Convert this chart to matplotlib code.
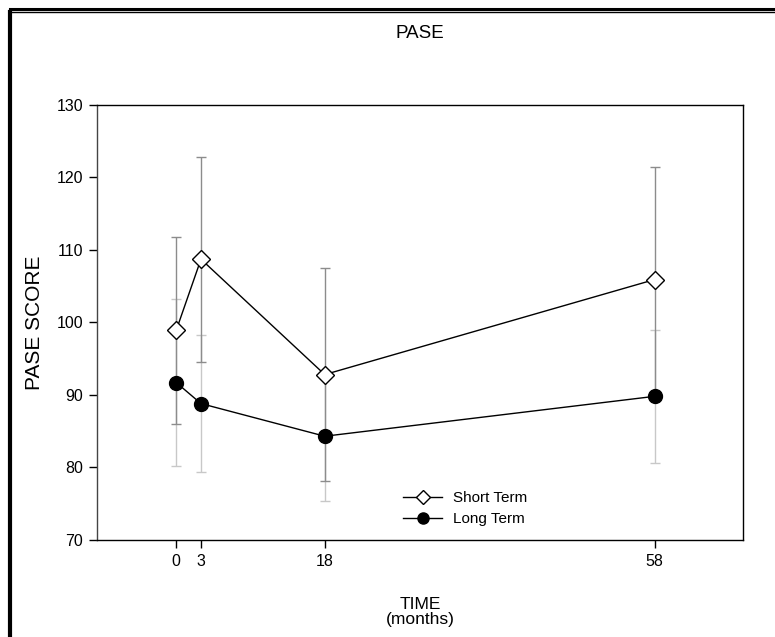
import matplotlib.pyplot as plt
from matplotlib.lines import Line2D

# time points (months) and group means / error half-widths
months = [0, 3, 18, 58]
short_mean = [98.9, 108.7, 92.8, 105.9]
short_err = [12.9, 14.1, 14.7, 15.5]
long_mean = [91.7, 88.8, 84.3, 89.8]
long_err = [11.5, 9.4, 8.9, 9.2]

plt.rcParams['font.family'] = ['Liberation Sans', 'DejaVu Sans']

fig = plt.figure(figsize=(7.75, 6.37), dpi=100)
ax = fig.add_axes([0.1252, 0.1523, 0.8335, 0.6834])

# error bars first, so the lines and markers sit on top
ax.errorbar(months, long_mean, yerr=long_err, fmt='none', ecolor='#c8c8c8',
            elinewidth=1, capsize=3.5, capthick=1, zorder=1)
ax.errorbar(months, short_mean, yerr=short_err, fmt='none', ecolor='#8c8c8c',
            elinewidth=1, capsize=3.5, capthick=1, zorder=1)

ax.plot(months, short_mean, color='black', lw=1, marker='D', markersize=9.5,
        markerfacecolor='white', markeredgecolor='black', markeredgewidth=1,
        label='Short Term', zorder=3)
ax.plot(months, long_mean, color='black', lw=1, marker='o', markersize=10,
        markerfacecolor='black', markeredgecolor='black',
        label='Long Term', zorder=3)

ax.set_xlim(-9.6, 68.7)
ax.set_ylim(70, 130)
ax.set_xticks(months)
ax.set_yticks(range(70, 131, 10))
ax.tick_params(direction='out', length=6, width=1, labelsize=11.5, pad=4,
               top=False, right=False)
for s in ax.spines.values():
    s.set_linewidth(1)
ax.spines['left'].set_color('#444444')

ax.set_title('PASE', fontsize=13.5, pad=48)
ax.set_ylabel('PASE SCORE', fontsize=15, labelpad=9)
ax.set_xlabel('TIME\n(months)', fontsize=12.5, labelpad=20, linespacing=1.0)

leg = ax.legend(loc='lower left', bbox_to_anchor=(0.452, 0.0), frameon=False,
                fontsize=11, handlelength=2.6, handletextpad=0.7,
                labelspacing=0.45, markerscale=0.8)

# frame lines left from the screen capture
fig.add_artist(Line2D([10 / 775, 1], [1 - 8.5 / 637, 1 - 8.5 / 637],
                      color='black', lw=2.2, transform=fig.transFigure))
fig.add_artist(Line2D([12 / 775, 1], [1 - 12 / 637, 1 - 12 / 637],
                      color='black', lw=1.0, transform=fig.transFigure))
fig.add_artist(Line2D([10 / 775, 10 / 775], [0, 1 - 12 / 637], color='black',
                      lw=3, transform=fig.transFigure))

fig.savefig('out.png', dpi=100)
